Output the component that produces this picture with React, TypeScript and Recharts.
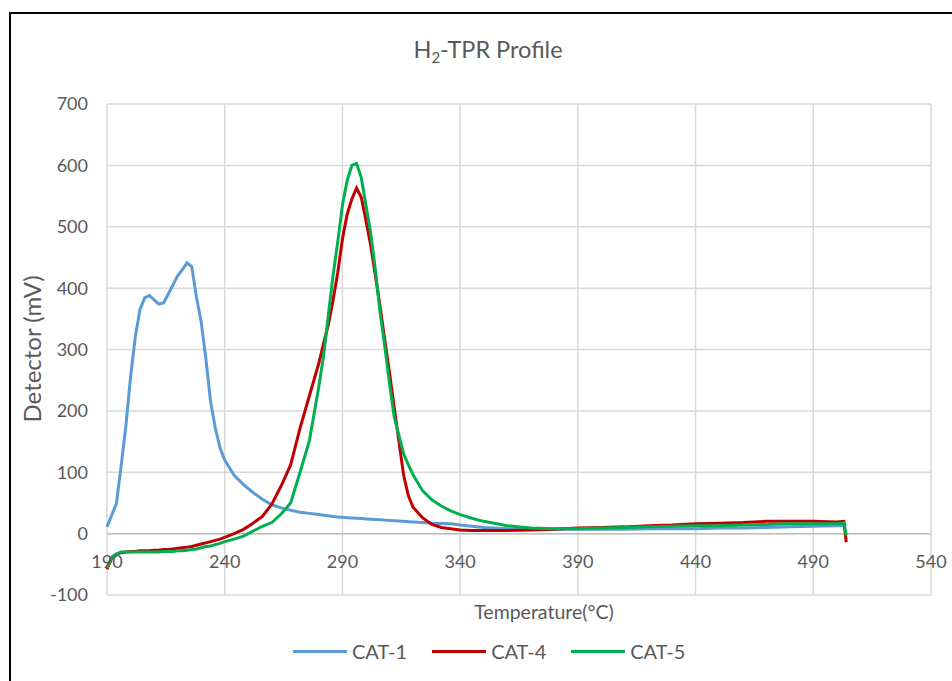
import React from 'react';
import { LineChart, Line, XAxis, YAxis, CartesianGrid, ReferenceLine } from 'recharts';

// temperature grid (°C) shared by all three profiles
const temps = [
  190, 192, 194, 196, 198, 200, 202, 204, 206, 208, 210, 212, 214, 216, 218, 220, 222, 224, 226, 228,
  230, 232, 234, 236, 238, 240, 244, 248, 252, 256, 260, 264, 268, 272, 276, 280, 282, 284, 286, 288,
  290, 292, 294, 296, 298, 300, 302, 304, 306, 308, 310, 312, 314, 316, 318, 320, 324, 328, 332, 336,
  340, 345, 350, 360, 370, 380, 390, 400, 410, 420, 430, 440, 450, 460, 470, 480, 490, 500, 503, 504,
];

// detector signal (mV)
const cat1 = [
  11, 30, 49, 110, 175, 255, 320, 365, 384, 388, 381, 374, 376, 390, 405, 420, 430, 441, 435, 385,
  345, 285, 215, 172, 140, 120, 95, 80, 67, 56, 47, 42, 38, 35, 33, 31, 30, 29, 28, 27,
  26.5, 26, 25.5, 25, 24.5, 24, 23.5, 23, 22.5, 22, 21.5, 21, 20.5, 20, 19.5, 19, 18, 17, 16.5, 16,
  14, 12, 10, 8, 7, 7, 7, 7, 7, 8, 8, 8, 9, 9, 10, 11, 12, 13, 13, 12,
];

const cat4 = [
  -58, -40, -34, -31, -30, -29, -29, -28, -28, -28, -27, -27, -26, -26, -25, -24, -23, -22, -21, -19,
  -17, -15, -13, -11, -9, -6, 0, 7, 17, 28, 48, 78, 112, 172, 225, 278, 310, 340, 380, 425,
  480, 520, 545, 563, 548, 510, 470, 420, 370, 315, 262, 205, 150, 95, 62, 43, 26, 15, 10, 8,
  6, 5, 5, 5, 6, 7, 9, 10, 11, 13, 14, 16, 17, 18, 20, 20, 20, 19, 20, -14,
];

const cat5 = [
  -56, -38, -33, -30, -30, -30, -30, -30, -30, -30, -30, -30, -29, -29, -29, -28, -28, -27, -26, -25,
  -23, -21, -20, -18, -16, -13, -9, -4, 4, 12, 18, 32, 50, 100, 152, 240, 290, 355, 420, 475,
  535, 575, 600, 603, 580, 535, 490, 430, 360, 305, 245, 190, 160, 130, 112, 96, 70, 55, 45, 37,
  31, 25, 20, 13, 9, 8, 8, 9, 10, 11, 12, 13, 13, 14, 15, 16, 16, 16, 17, -3,
];

const xTicks = [190, 240, 290, 340, 390, 440, 490, 540];
const yTicks = [-100, 0, 100, 200, 300, 400, 500, 600, 700];

const series = [
  { key: 'cat1', name: 'CAT-1', color: '#5b9bd5' },
  { key: 'cat4', name: 'CAT-4', color: '#c00000' },
  { key: 'cat5', name: 'CAT-5', color: '#00b050' },
];

const data = temps.map((t, i) => ({ t, cat1: cat1[i], cat4: cat4[i], cat5: cat5[i] }));

const FONT = 'Lato, "Noto Sans", sans-serif';
const GREY = '#595959';

// Excel draws the category labels at the y=0 crossing, not at the bottom edge
const XTick = (props: any) => {
  const { x, y, payload } = props;
  return (
    <text x={x} y={y - 27} textAnchor="middle" fill={GREY} fontSize={18} fontFamily={FONT}>
      {payload.value}
    </text>
  );
};

export default function App() {
  return (
    <div style={{ position: 'absolute', left: 0, top: 0, width: 952, height: 681, overflow: 'hidden', background: '#fff' }}>
      <div style={{ position: 'absolute', left: 9, top: 12, width: 1000, height: 1000, border: '2px solid #000' }} />
      <div style={{ position: 'absolute', left: 0, top: 0 }}>
        <LineChart width={952} height={681} data={data} margin={{ top: 104, right: 21, bottom: 56, left: 20 }}>
          <CartesianGrid stroke="#d9d9d9" strokeWidth={1.5} />
          <XAxis
            dataKey="t"
            type="number"
            domain={[190, 540]}
            ticks={xTicks}
            axisLine={false}
            tickLine={false}
            tickSize={0}
            tickMargin={0}
            height={30}
            tick={<XTick />}
            interval={0}
          />
          <YAxis
            domain={[-100, 700]}
            ticks={yTicks}
            width={87}
            axisLine={false}
            tickLine={false}
            tickSize={0}
            tickMargin={19}
            interval={0}
            tick={{ fill: GREY, fontSize: 18, fontFamily: FONT }}
          />
          <ReferenceLine y={0} stroke="#bfbfbf" strokeWidth={1.5} />
          {series.map((s) => (
            <Line
              key={s.key}
              type="linear"
              dataKey={s.key}
              name={s.name}
              stroke={s.color}
              strokeWidth={3}
              dot={false}
              isAnimationActive={false}
            />
          ))}
        </LineChart>
      </div>
      <svg width={952} height={681} style={{ position: 'absolute', left: 0, top: 0, pointerEvents: 'none' }}>
        <text x={488} y={58} textAnchor="middle" fill={GREY} fontSize={23.5} fontFamily={FONT}>
          H<tspan fontSize={15} dy={5}>2</tspan>
          <tspan dy={-5}>-TPR Profile</tspan>
        </text>
        <text transform="translate(41,349) rotate(-90)" textAnchor="middle" fill={GREY} fontSize={24} fontFamily={FONT}>
          Detector (mV)
        </text>
        <text x={544} y={619} textAnchor="middle" fill={GREY} fontSize={19.5} fontFamily={FONT}>
          Temperature(°C)
        </text>
      </svg>
      <div
        style={{
          position: 'absolute', left: 293, top: 639, display: 'flex', alignItems: 'center',
          fontFamily: FONT, fontSize: 20, color: GREY, lineHeight: '24px',
        }}
      >
        {series.map((s) => (
          <div key={s.key} style={{ display: 'flex', alignItems: 'center', marginRight: 25 }}>
            <span style={{ display: 'inline-block', width: 54, height: 3, background: s.color, marginRight: 5 }} />
            <span>{s.name}</span>
          </div>
        ))}
      </div>
    </div>
  );
}
